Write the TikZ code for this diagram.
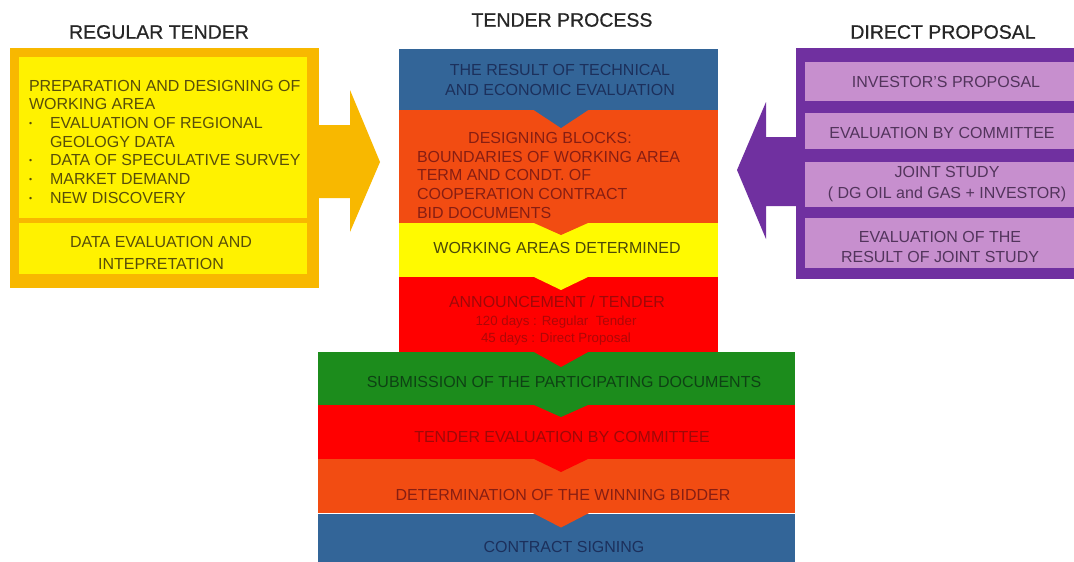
\documentclass[tikz,border=0pt]{standalone}
\usepackage{fontspec}
\setmainfont{Liberation Sans}
\newfontfamily\headfont[FakeBold=0.6]{Liberation Sans}
\usetikzlibrary{calc}

% fills
\definecolor{gold}{RGB}{248,184,0}
\definecolor{lemon}{RGB}{255,242,0}
\definecolor{plum}{RGB}{112,48,160}
\definecolor{lilac}{RGB}{199,143,206}
\definecolor{steel}{RGB}{51,101,152}
\definecolor{flame}{RGB}{242,76,18}
\definecolor{sun}{RGB}{255,250,0}
\definecolor{scarlet}{RGB}{255,0,0}
\definecolor{leaf}{RGB}{28,140,28}
% lettering
\definecolor{olivetext}{RGB}{88,78,10}
\definecolor{navytext}{RGB}{28,48,92}
\definecolor{rusttext}{RGB}{135,30,18}
\definecolor{mustardtext}{RGB}{75,72,8}
\definecolor{crimsontext}{RGB}{160,8,8}
\definecolor{pinetext}{RGB}{14,66,20}
\definecolor{grapetext}{RGB}{82,52,92}

\newcommand\bodyfont{\fontsize{16}{18.7}\selectfont}
\newcommand\bul{\makebox[21pt][l]{\raisebox{2pt}{\scalebox{0.55}{•}}}}
% downward notch of a block, pointing into the block below it
\newcommand\chevron[3]{\fill[#2] (#1.south -| tip) ++(-28,-0.5) -- ++(28,#3+0.5) -- ++(28,-#3-0.5) -- cycle;}

\tikzset{
  blk/.style={anchor=north west, inner sep=0pt, outer sep=0pt, draw=none},
  title/.style={font=\headfont\fontsize{19.5}{22}\selectfont, text=black!85},
  lbl/.style={font=\bodyfont, align=center},
}

\begin{document}
\begin{tikzpicture}[x=1pt,y=-1pt, every node/.style={inner sep=0pt, outer sep=0pt}]
\useasboundingbox (0,0) rectangle (1074,562);
\clip (0,0) rectangle (1074,562);
\fill[white] (0,0) rectangle (1074,562);
\coordinate (tip) at (561,0);

% titles
\node[title] (t1) at (159,32) {REGULAR TENDER};
\node[title] (t2) at (562,20) {TENDER PROCESS};
\node[title] (t3) at (943,32) {DIRECT PROPOSAL};

% regular tender panel
\node[blk, fill=gold, minimum width=309pt, minimum height=240pt] (lp) at (10,48) {};
\node[blk, fill=lemon, minimum width=288pt, minimum height=161pt] (lp1) at (19,57) {};
\node[blk, fill=lemon, minimum width=288pt, minimum height=51pt] (lp2) at (19,223) {};
\fill[gold] (lp.east) ++(-1,-43) -- ++(32,0) -- ++(0,-35) -- ++(30,72) -- ++(-30,70) -- ++(0,-34) -- ++(-32,0) -- cycle;

\node[font=\bodyfont, text=olivetext, align=left, anchor=north west] (lt1) at (29,80)
  {PREPARATION AND DESIGNING OF\\
   WORKING AREA\\
   \bul EVALUATION OF REGIONAL\\
   \hspace*{21pt}GEOLOGY DATA\\
   \bul DATA OF SPECULATIVE SURVEY\\
   \bul MARKET DEMAND\\
   \bul NEW DISCOVERY};
\node[font=\fontsize{16}{21.5}\selectfont, text=olivetext, align=center] (lt2) at (161,253)
  {DATA EVALUATION AND\\INTEPRETATION};

% direct proposal panel
\node[blk, fill=plum, minimum width=290pt, minimum height=231pt] (rp) at (796,48) {};
\node[blk, fill=lilac, minimum width=280pt, minimum height=39pt] (rp1) at (805,62) {};
\node[blk, fill=lilac, minimum width=280pt, minimum height=36pt] (rp2) at (805,113) {};
\node[blk, fill=lilac, minimum width=280pt, minimum height=45pt] (rp3) at (805,162) {};
\node[blk, fill=lilac, minimum width=280pt, minimum height=50pt] (rp4) at (805,218) {};
\fill[plum] (rp.west) ++(1,-26.5) -- ++(-31,0) -- ++(0,-35) -- ++(-29,68) -- ++(29,69) -- ++(0,-33) -- ++(31,0) -- cycle;

\node[lbl, text=grapetext] (rt1) at (946,82) {INVESTOR'S PROPOSAL};
\node[lbl, text=grapetext] (rt2) at (942,133) {EVALUATION BY COMMITTEE};
\node[lbl, text=grapetext, font=\fontsize{16}{21}\selectfont] (rt3) at (947,184) {JOINT STUDY\\( DG OIL and GAS + INVESTOR)};
\node[lbl, text=grapetext, font=\fontsize{16}{20}\selectfont] (rt4) at (940,247) {EVALUATION OF THE\\RESULT OF JOINT STUDY};

% tender process column
\node[blk, fill=steel,   minimum width=319pt, minimum height=61pt]   (b1) at (399,49) {};
\node[blk, fill=flame,   minimum width=319pt, minimum height=113pt]  (b2) at (399,110) {};
\node[blk, fill=sun,     minimum width=319pt, minimum height=54pt]   (b3) at (399,223) {};
\node[blk, fill=scarlet, minimum width=319pt, minimum height=75pt]   (b4) at (399,277) {};
\node[blk, fill=leaf,    minimum width=477pt, minimum height=53pt]   (b5) at (318,352) {};
\node[blk, fill=scarlet, minimum width=477pt, minimum height=54pt]   (b6) at (318,405) {};
\node[blk, fill=flame,   minimum width=477pt, minimum height=54.5pt] (b7) at (318,459) {};
\node[blk, fill=steel,   minimum width=477pt, minimum height=49pt]   (b8) at (318,513.5) {};
\draw[white, line width=1pt] (b8.north west) -- (b8.north east);

\chevron{b1}{steel}{18}
\chevron{b2}{flame}{12}
\chevron{b3}{sun}{13}
\chevron{b4}{scarlet}{15}
\chevron{b5}{leaf}{12}
\chevron{b6}{scarlet}{13}
\chevron{b7}{flame}{14}

\node[lbl, text=navytext, font=\fontsize{16}{20}\selectfont] (c1) at (560,80) {THE RESULT OF TECHNICAL\\AND ECONOMIC EVALUATION};
\node[lbl, text=rusttext] (c2a) at (550,138) {DESIGNING BLOCKS:};
\node[font=\bodyfont, text=rusttext, align=left, anchor=north west] (c2b) at (417,151)
  {BOUNDARIES OF WORKING AREA\\TERM AND CONDT. OF\\COOPERATION CONTRACT\\BID DOCUMENTS};
\node[lbl, text=mustardtext] (c3) at (557,248) {WORKING AREAS DETERMINED};
\node[lbl, text=crimsontext] (c4a) at (557,302) {ANNOUNCEMENT / TENDER};
\node[align=center, text=crimsontext!85!scarlet, font=\fontsize{13.3}{17}\selectfont] (c4b) at (556,331)
  {120 days : Regular \ Tender\\45 days : Direct Proposal};
\node[lbl, text=pinetext] (c5) at (564,382) {SUBMISSION OF THE PARTICIPATING DOCUMENTS};
\node[lbl, text=crimsontext] (c6) at (562,437) {TENDER EVALUATION BY COMMITTEE};
\node[lbl, text=rusttext] (c7) at (563,495) {DETERMINATION OF THE WINNING BIDDER};
\node[lbl, text=navytext] (c8) at (564,547) {CONTRACT SIGNING};
\end{tikzpicture}
\end{document}
